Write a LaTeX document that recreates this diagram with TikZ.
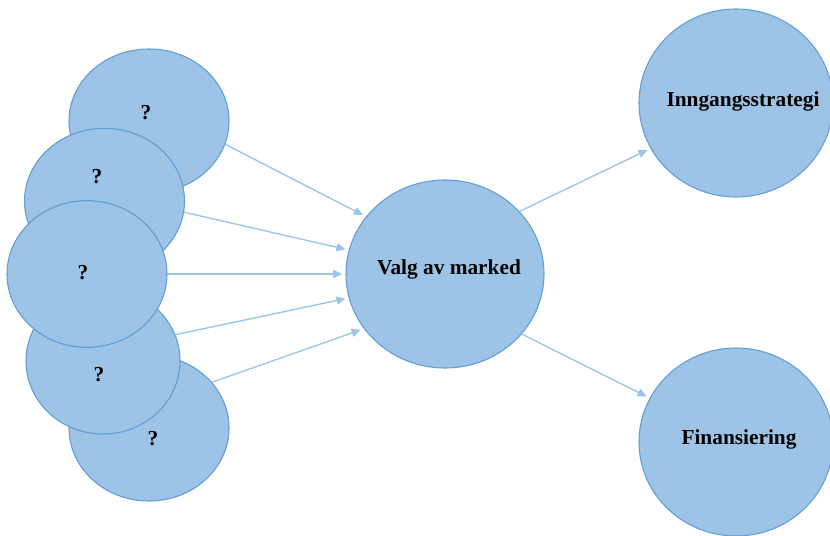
\documentclass[tikz,border=0pt]{standalone}
\usepackage{fontspec}
\setmainfont{Liberation Serif}
\usetikzlibrary{shapes.geometric,arrows.meta}
\definecolor{bubblefill}{RGB}{157,195,230}
\definecolor{bubbleline}{RGB}{98,157,212}
\definecolor{linkcol}{RGB}{157,195,230}
\tikzset{
  bubble/.style={ellipse, draw=bubbleline, line width=0.8pt, fill=bubblefill,
                 inner sep=0pt, minimum width=#1},
  lbl/.style={font=\fontsize{16}{18}\selectfont\bfseries, inner sep=0pt},
  link/.style={draw=linkcol, line width=1pt,
               -{Triangle[length=6.8pt,width=6pt]}, shorten >=2.5pt}
}
\begin{document}
\begin{tikzpicture}[x=0.75pt,y=-0.75pt]
  \useasboundingbox (0,0) rectangle (830,535);

  % stacked question bubbles (back to front)
  \node[bubble=120pt, minimum height=108pt] (e1) at (149,121) {};
  \node[bubble=120pt, minimum height=109pt] (e2) at (104.5,201) {};
  \node[bubble=120pt, minimum height=109.5pt] (e5) at (149,428) {};
  \node[bubble=115.5pt, minimum height=109.5pt] (e4) at (103,361) {};
  \node[bubble=120pt, minimum height=110pt] (e3) at (87,274) {};

  \node[lbl] (t1) at (146,113) {?};
  \node[lbl] (t2) at (97,177) {?};
  \node[lbl] (t3) at (83,273) {?};
  \node[lbl] (t4) at (99,375) {?};
  \node[lbl] (t5) at (153,439) {?};

  % main bubbles
  \node[bubble=148.5pt, minimum height=141pt] (c) at (445,274) {};
  \node[bubble=145.5pt, minimum height=141pt] (ins) at (736,103) {};
  \node[bubble=145.5pt, minimum height=141pt] (fin) at (736,442) {};

  \node[lbl, anchor=base] (tc) at (449,274) {Valg av marked};
  \node[lbl, anchor=base] (tins) at (743,106) {Inngangsstrategi};
  \node[lbl, anchor=base] (tfin) at (739,444) {Finansiering};

  % connectors
  \draw[link] (e1.-17) -- (c.144);
  \draw[link] (e2.-8.6) -- (c.166);
  \draw[link] (e3.0) -- (c.180);
  \draw[link] (e4.20) -- (c.194);
  \draw[link] (e5.36) -- (c.214);
  \draw[link] (c.40) -- (ins.208);
  \draw[link] (c.-38) -- (fin.153);
\end{tikzpicture}
\end{document}
